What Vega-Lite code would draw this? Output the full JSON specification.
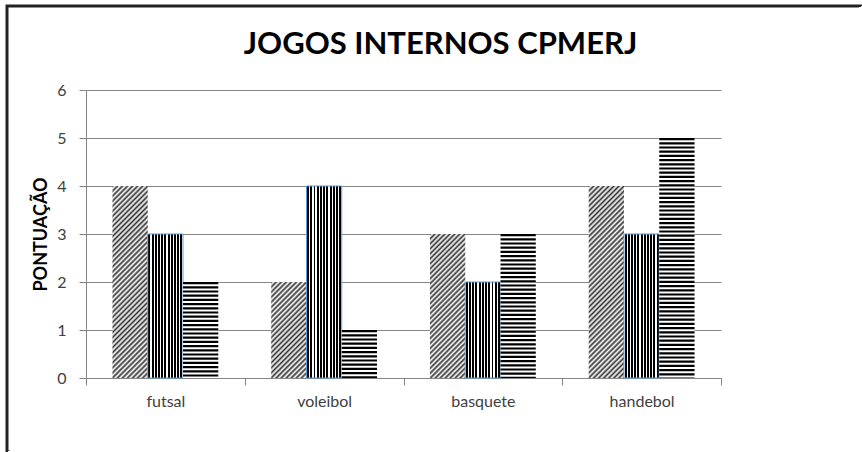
{
  "$schema": "https://vega.github.io/schema/vega-lite/v6.json",
  "width": 855,
  "height": 446,
  "autosize": {"type": "none"},
  "padding": {"left": 7, "top": 6, "right": 0, "bottom": 0},
  "background": "white",
  "config": {
    "font": "Lato",
    "view": {
      "strokeWidth": 3,
      "stroke": {"gradient": "linear", "x1": 0, "y1": 0, "x2": 1, "y2": 1,
        "stops": [{"offset": 0, "color": "#222"}, {"offset": 0.5, "color": "#222"}, {"offset": 0.5, "color": "rgba(0,0,0,0)"}, {"offset": 1, "color": "rgba(0,0,0,0)"}]}
    }
  },
  "title": {"text": "JOGOS INTERNOS CPMERJ", "font": "Lato", "fontSize": 31, "fontWeight": "bold", "color": "#000", "anchor": "middle", "frame": "group", "offset": -55, "dx": 6},
  "data": {"values": [
    {"esporte": "futsal", "serie": "Série 1", "pontos": 4},
    {"esporte": "futsal", "serie": "Série 2", "pontos": 3},
    {"esporte": "futsal", "serie": "Série 3", "pontos": 2},
    {"esporte": "voleibol", "serie": "Série 1", "pontos": 2},
    {"esporte": "voleibol", "serie": "Série 2", "pontos": 4},
    {"esporte": "voleibol", "serie": "Série 3", "pontos": 1},
    {"esporte": "basquete", "serie": "Série 1", "pontos": 3},
    {"esporte": "basquete", "serie": "Série 2", "pontos": 2},
    {"esporte": "basquete", "serie": "Série 3", "pontos": 3},
    {"esporte": "handebol", "serie": "Série 1", "pontos": 4},
    {"esporte": "handebol", "serie": "Série 2", "pontos": 3},
    {"esporte": "handebol", "serie": "Série 3", "pontos": 5}
  ]},
  "encoding": {
    "x": {"field": "esporte", "type": "nominal", "sort": null,
      "scale": {"range": [79, 714], "paddingInner": 0, "paddingOuter": 0},
      "axis": {"title": null, "offset": -74, "tickBand": "extent", "labelAngle": 0, "labelFontSize": 16, "labelColor": "#404040", "labelPadding": 8, "tickSize": 7, "tickColor": "#868686", "domainColor": "#868686", "grid": false}},
    "xOffset": {"field": "serie", "type": "nominal", "scale": {"domain": ["Série 1", "Série 2", "Série 3"], "paddingInner": 0, "paddingOuter": 0.75}},
    "y": {"field": "pontos", "type": "quantitative",
      "scale": {"domain": [0, 6], "range": [372, 84], "nice": false},
      "axis": {"title": "PONTUAÇÃO", "titleFontSize": 18, "titleFontWeight": "bold", "titleColor": "#000", "titlePadding": 6, "offset": -79, "values": [0, 1, 2, 3, 4, 5, 6], "labelFontSize": 16, "labelColor": "#404040", "labelPadding": 13, "tickSize": 7, "tickColor": "#868686", "domainColor": "#868686", "gridColor": "#868686", "grid": true}}
  },
  "layer": [
    {
      "transform": [{"filter": "datum.serie === 'Série 1'"}],
      "mark": {"type": "bar"},
      "encoding": {
        "fill": {
          "condition": [
            {"test": "datum.pontos === 2", "value": {"gradient": "linear", "x1": 0, "y1": 0, "x2": 0.4427, "y2": 1.2048, "stops": [
              {"offset": 0, "color": "#333"}, {"offset": 0.0192, "color": "#fff"}, {"offset": 0.0385, "color": "#333"}, {"offset": 0.0577, "color": "#fff"}, {"offset": 0.0769, "color": "#333"}, {"offset": 0.0962, "color": "#fff"}, {"offset": 0.1154, "color": "#333"}, {"offset": 0.1346, "color": "#fff"}, {"offset": 0.1538, "color": "#333"}, {"offset": 0.1731, "color": "#fff"}, {"offset": 0.1923, "color": "#333"}, {"offset": 0.2115, "color": "#fff"}, {"offset": 0.2308, "color": "#333"}, {"offset": 0.25, "color": "#fff"}, {"offset": 0.2692, "color": "#333"}, {"offset": 0.2885, "color": "#fff"}, {"offset": 0.3077, "color": "#333"}, {"offset": 0.3269, "color": "#fff"}, {"offset": 0.3462, "color": "#333"}, {"offset": 0.3654, "color": "#fff"}, {"offset": 0.3846, "color": "#333"}, {"offset": 0.4038, "color": "#fff"}, {"offset": 0.4231, "color": "#333"}, {"offset": 0.4423, "color": "#fff"}, {"offset": 0.4615, "color": "#333"}, {"offset": 0.4808, "color": "#fff"}, {"offset": 0.5, "color": "#333"}, {"offset": 0.5192, "color": "#fff"}, {"offset": 0.5385, "color": "#333"}, {"offset": 0.5577, "color": "#fff"}, {"offset": 0.5769, "color": "#333"}, {"offset": 0.5962, "color": "#fff"}, {"offset": 0.6154, "color": "#333"}, {"offset": 0.6346, "color": "#fff"}, {"offset": 0.6538, "color": "#333"}, {"offset": 0.6731, "color": "#fff"}, {"offset": 0.6923, "color": "#333"}, {"offset": 0.7115, "color": "#fff"}, {"offset": 0.7308, "color": "#333"}, {"offset": 0.75, "color": "#fff"}, {"offset": 0.7692, "color": "#333"}, {"offset": 0.7885, "color": "#fff"}, {"offset": 0.8077, "color": "#333"}, {"offset": 0.8269, "color": "#fff"}, {"offset": 0.8462, "color": "#333"}, {"offset": 0.8654, "color": "#fff"}, {"offset": 0.8846, "color": "#333"}, {"offset": 0.9038, "color": "#fff"}, {"offset": 0.9231, "color": "#333"}, {"offset": 0.9423, "color": "#fff"}, {"offset": 0.9615, "color": "#333"}, {"offset": 0.9808, "color": "#fff"}, {"offset": 1, "color": "#333"}]}},
            {"test": "datum.pontos === 3", "value": {"gradient": "linear", "x1": 0, "y1": 0, "x2": 0.2877, "y2": 1.1745, "stops": [
              {"offset": 0, "color": "#333"}, {"offset": 0.0139, "color": "#fff"}, {"offset": 0.0278, "color": "#333"}, {"offset": 0.0417, "color": "#fff"}, {"offset": 0.0556, "color": "#333"}, {"offset": 0.0694, "color": "#fff"}, {"offset": 0.0833, "color": "#333"}, {"offset": 0.0972, "color": "#fff"}, {"offset": 0.1111, "color": "#333"}, {"offset": 0.125, "color": "#fff"}, {"offset": 0.1389, "color": "#333"}, {"offset": 0.1528, "color": "#fff"}, {"offset": 0.1667, "color": "#333"}, {"offset": 0.1806, "color": "#fff"}, {"offset": 0.1944, "color": "#333"}, {"offset": 0.2083, "color": "#fff"}, {"offset": 0.2222, "color": "#333"}, {"offset": 0.2361, "color": "#fff"}, {"offset": 0.25, "color": "#333"}, {"offset": 0.2639, "color": "#fff"}, {"offset": 0.2778, "color": "#333"}, {"offset": 0.2917, "color": "#fff"}, {"offset": 0.3056, "color": "#333"}, {"offset": 0.3194, "color": "#fff"}, {"offset": 0.3333, "color": "#333"}, {"offset": 0.3472, "color": "#fff"}, {"offset": 0.3611, "color": "#333"}, {"offset": 0.375, "color": "#fff"}, {"offset": 0.3889, "color": "#333"}, {"offset": 0.4028, "color": "#fff"}, {"offset": 0.4167, "color": "#333"}, {"offset": 0.4306, "color": "#fff"}, {"offset": 0.4444, "color": "#333"}, {"offset": 0.4583, "color": "#fff"}, {"offset": 0.4722, "color": "#333"}, {"offset": 0.4861, "color": "#fff"}, {"offset": 0.5, "color": "#333"}, {"offset": 0.5139, "color": "#fff"}, {"offset": 0.5278, "color": "#333"}, {"offset": 0.5417, "color": "#fff"}, {"offset": 0.5556, "color": "#333"}, {"offset": 0.5694, "color": "#fff"}, {"offset": 0.5833, "color": "#333"}, {"offset": 0.5972, "color": "#fff"}, {"offset": 0.6111, "color": "#333"}, {"offset": 0.625, "color": "#fff"}, {"offset": 0.6389, "color": "#333"}, {"offset": 0.6528, "color": "#fff"}, {"offset": 0.6667, "color": "#333"}, {"offset": 0.6806, "color": "#fff"}, {"offset": 0.6944, "color": "#333"}, {"offset": 0.7083, "color": "#fff"}, {"offset": 0.7222, "color": "#333"}, {"offset": 0.7361, "color": "#fff"}, {"offset": 0.75, "color": "#333"}, {"offset": 0.7639, "color": "#fff"}, {"offset": 0.7778, "color": "#333"}, {"offset": 0.7917, "color": "#fff"}, {"offset": 0.8056, "color": "#333"}, {"offset": 0.8194, "color": "#fff"}, {"offset": 0.8333, "color": "#333"}, {"offset": 0.8472, "color": "#fff"}, {"offset": 0.8611, "color": "#333"}, {"offset": 0.875, "color": "#fff"}, {"offset": 0.8889, "color": "#333"}, {"offset": 0.9028, "color": "#fff"}, {"offset": 0.9167, "color": "#333"}, {"offset": 0.9306, "color": "#fff"}, {"offset": 0.9444, "color": "#333"}, {"offset": 0.9583, "color": "#fff"}, {"offset": 0.9722, "color": "#333"}, {"offset": 0.9861, "color": "#fff"}, {"offset": 1, "color": "#333"}]}}
          ],
          "value": {"gradient": "linear", "x1": 0, "y1": 0, "x2": 0.2104, "y2": 1.1451, "stops": [
            {"offset": 0, "color": "#333"}, {"offset": 0.0111, "color": "#fff"}, {"offset": 0.0222, "color": "#333"}, {"offset": 0.0333, "color": "#fff"}, {"offset": 0.0444, "color": "#333"}, {"offset": 0.0556, "color": "#fff"}, {"offset": 0.0667, "color": "#333"}, {"offset": 0.0778, "color": "#fff"}, {"offset": 0.0889, "color": "#333"}, {"offset": 0.1, "color": "#fff"}, {"offset": 0.1111, "color": "#333"}, {"offset": 0.1222, "color": "#fff"}, {"offset": 0.1333, "color": "#333"}, {"offset": 0.1444, "color": "#fff"}, {"offset": 0.1556, "color": "#333"}, {"offset": 0.1667, "color": "#fff"}, {"offset": 0.1778, "color": "#333"}, {"offset": 0.1889, "color": "#fff"}, {"offset": 0.2, "color": "#333"}, {"offset": 0.2111, "color": "#fff"}, {"offset": 0.2222, "color": "#333"}, {"offset": 0.2333, "color": "#fff"}, {"offset": 0.2444, "color": "#333"}, {"offset": 0.2556, "color": "#fff"}, {"offset": 0.2667, "color": "#333"}, {"offset": 0.2778, "color": "#fff"}, {"offset": 0.2889, "color": "#333"}, {"offset": 0.3, "color": "#fff"}, {"offset": 0.3111, "color": "#333"}, {"offset": 0.3222, "color": "#fff"}, {"offset": 0.3333, "color": "#333"}, {"offset": 0.3444, "color": "#fff"}, {"offset": 0.3556, "color": "#333"}, {"offset": 0.3667, "color": "#fff"}, {"offset": 0.3778, "color": "#333"}, {"offset": 0.3889, "color": "#fff"}, {"offset": 0.4, "color": "#333"}, {"offset": 0.4111, "color": "#fff"}, {"offset": 0.4222, "color": "#333"}, {"offset": 0.4333, "color": "#fff"}, {"offset": 0.4444, "color": "#333"}, {"offset": 0.4556, "color": "#fff"}, {"offset": 0.4667, "color": "#333"}, {"offset": 0.4778, "color": "#fff"}, {"offset": 0.4889, "color": "#333"}, {"offset": 0.5, "color": "#fff"}, {"offset": 0.5111, "color": "#333"}, {"offset": 0.5222, "color": "#fff"}, {"offset": 0.5333, "color": "#333"}, {"offset": 0.5444, "color": "#fff"}, {"offset": 0.5556, "color": "#333"}, {"offset": 0.5667, "color": "#fff"}, {"offset": 0.5778, "color": "#333"}, {"offset": 0.5889, "color": "#fff"}, {"offset": 0.6, "color": "#333"}, {"offset": 0.6111, "color": "#fff"}, {"offset": 0.6222, "color": "#333"}, {"offset": 0.6333, "color": "#fff"}, {"offset": 0.6444, "color": "#333"}, {"offset": 0.6556, "color": "#fff"}, {"offset": 0.6667, "color": "#333"}, {"offset": 0.6778, "color": "#fff"}, {"offset": 0.6889, "color": "#333"}, {"offset": 0.7, "color": "#fff"}, {"offset": 0.7111, "color": "#333"}, {"offset": 0.7222, "color": "#fff"}, {"offset": 0.7333, "color": "#333"}, {"offset": 0.7444, "color": "#fff"}, {"offset": 0.7556, "color": "#333"}, {"offset": 0.7667, "color": "#fff"}, {"offset": 0.7778, "color": "#333"}, {"offset": 0.7889, "color": "#fff"}, {"offset": 0.8, "color": "#333"}, {"offset": 0.8111, "color": "#fff"}, {"offset": 0.8222, "color": "#333"}, {"offset": 0.8333, "color": "#fff"}, {"offset": 0.8444, "color": "#333"}, {"offset": 0.8556, "color": "#fff"}, {"offset": 0.8667, "color": "#333"}, {"offset": 0.8778, "color": "#fff"}, {"offset": 0.8889, "color": "#333"}, {"offset": 0.9, "color": "#fff"}, {"offset": 0.9111, "color": "#333"}, {"offset": 0.9222, "color": "#fff"}, {"offset": 0.9333, "color": "#333"}, {"offset": 0.9444, "color": "#fff"}, {"offset": 0.9556, "color": "#333"}, {"offset": 0.9667, "color": "#fff"}, {"offset": 0.9778, "color": "#333"}, {"offset": 0.9889, "color": "#fff"}, {"offset": 1, "color": "#333"}]}
        }
      }
    },
    {
      "transform": [{"filter": "datum.serie === 'Série 2'"}],
      "mark": {"type": "bar", "stroke": "#5B9BD5", "strokeWidth": 1,
        "fill": {"gradient": "linear", "x1": 0, "y1": 0, "x2": 1, "y2": 0, "stops": [
          {"offset": 0, "color": "#fff"}, {"offset": 0.018, "color": "#fff"}, {"offset": 0.018, "color": "#000"}, {"offset": 0.073, "color": "#000"}, {"offset": 0.073, "color": "#fff"},
          {"offset": 0.1089, "color": "#fff"}, {"offset": 0.1089, "color": "#000"}, {"offset": 0.1639, "color": "#000"}, {"offset": 0.1639, "color": "#fff"},
          {"offset": 0.1998, "color": "#fff"}, {"offset": 0.1998, "color": "#000"}, {"offset": 0.2548, "color": "#000"}, {"offset": 0.2548, "color": "#fff"},
          {"offset": 0.2907, "color": "#fff"}, {"offset": 0.2907, "color": "#000"}, {"offset": 0.3457, "color": "#000"}, {"offset": 0.3457, "color": "#fff"},
          {"offset": 0.3816, "color": "#fff"}, {"offset": 0.3816, "color": "#000"}, {"offset": 0.4366, "color": "#000"}, {"offset": 0.4366, "color": "#fff"},
          {"offset": 0.4725, "color": "#fff"}, {"offset": 0.4725, "color": "#000"}, {"offset": 0.5275, "color": "#000"}, {"offset": 0.5275, "color": "#fff"},
          {"offset": 0.5635, "color": "#fff"}, {"offset": 0.5635, "color": "#000"}, {"offset": 0.6185, "color": "#000"}, {"offset": 0.6185, "color": "#fff"},
          {"offset": 0.6544, "color": "#fff"}, {"offset": 0.6544, "color": "#000"}, {"offset": 0.7094, "color": "#000"}, {"offset": 0.7094, "color": "#fff"},
          {"offset": 0.7453, "color": "#fff"}, {"offset": 0.7453, "color": "#000"}, {"offset": 0.8003, "color": "#000"}, {"offset": 0.8003, "color": "#fff"},
          {"offset": 0.8362, "color": "#fff"}, {"offset": 0.8362, "color": "#000"}, {"offset": 0.8912, "color": "#000"}, {"offset": 0.8912, "color": "#fff"},
          {"offset": 0.9271, "color": "#fff"}, {"offset": 0.9271, "color": "#000"}, {"offset": 0.9821, "color": "#000"}, {"offset": 0.9821, "color": "#fff"},
          {"offset": 1, "color": "#fff"}]}}
    },
    {
      "transform": [{"filter": "datum.serie === 'Série 3'"}],
      "mark": {"type": "bar", "fill": "#ffffff"}
    },
    {
      "transform": [{"filter": "datum.serie === 'Série 3'"}],
      "mark": {"type": "rule", "strokeWidth": 35.28, "strokeDash": [2.2, 2], "color": "#000"},
      "encoding": {"y2": {"datum": 0}}
    }
  ]
}
